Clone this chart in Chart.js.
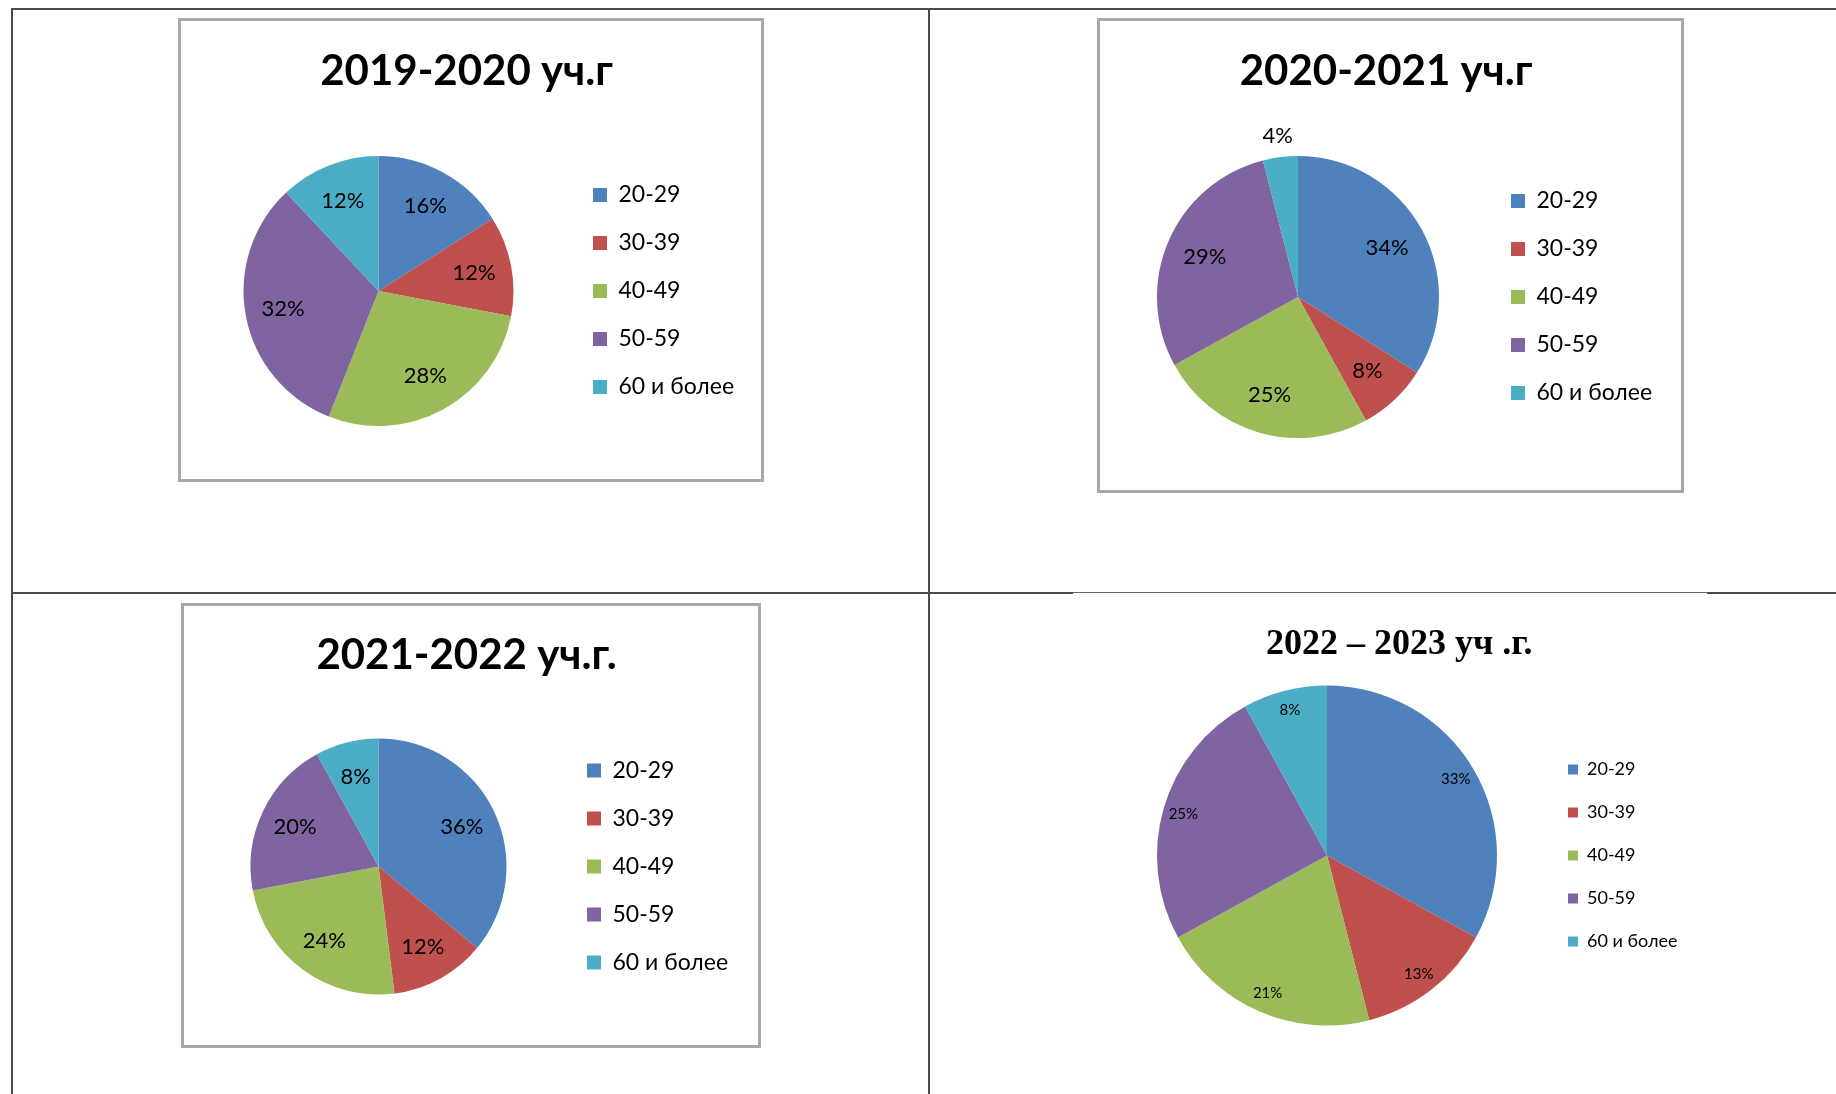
<!DOCTYPE html>
<html>
<head>
<meta charset="utf-8">
<script src="https://cdn.jsdelivr.net/npm/chart.js@4.4.1/dist/chart.umd.min.js"></script>
<style>
  body { margin: 0; background: #fff; width: 1836px; height: 1094px; position: relative; overflow: hidden; }
  .rule { position: absolute; background: #4a4a4a; }
  .frame { position: absolute; box-sizing: border-box; border: 3px solid #a8a8a8; }
  canvas { position: absolute; }
</style>
</head>
<body>
<!-- table lines -->
<div class="rule" style="left:11px;top:8px;width:1825px;height:2px"></div>
<div class="rule" style="left:11px;top:8px;width:2px;height:1086px"></div>
<div class="rule" style="left:928px;top:8px;width:2px;height:1086px"></div>
<div class="rule" style="left:11px;top:592px;width:1062px;height:2px"></div>
<div class="rule" style="left:1073px;top:592px;width:634px;height:1px;background:#666"></div>
<div class="rule" style="left:1707px;top:592px;width:129px;height:2px"></div>

<div class="frame" style="left:178px;top:18px;width:586px;height:464px"></div>
<div class="frame" style="left:1097px;top:18px;width:587px;height:475px"></div>
<div class="frame" style="left:181px;top:603px;width:580px;height:445px"></div>

<canvas id="c1" width="580" height="458" style="left:181px;top:21px"></canvas>
<canvas id="c2" width="581" height="469" style="left:1100px;top:21px"></canvas>
<canvas id="c3" width="574" height="439" style="left:184px;top:606px"></canvas>
<canvas id="c4" width="704" height="494" style="left:1040px;top:600px"></canvas>

<script>
// возрастные группы педагогов, доли в %
const ageGroups = ['20-29', '30-39', '40-49', '50-59', '60 и более'];
const titles = ['2019-2020 уч.г', '2020-2021 уч.г', '2021-2022 уч.г.', '2022 – 2023 уч .г.'];
const share2019 = [16, 12, 28, 32, 12];
const share2020 = [34, 8, 25, 29, 4];
const share2021 = [36, 12, 24, 20, 8];
const share2022 = [33, 13, 21, 25, 8];
const sliceColors = ['#4F81BD', '#C0504D', '#9BBB59', '#8064A2', '#4BACC6'];

// подписи процентов внутри секторов
const pctLabels = {
    id: 'pctLabels',
    afterDatasetsDraw(chart, args, opts) {
        const ctx = chart.ctx;
        const meta = chart.getDatasetMeta(0);
        const values = chart.data.datasets[0].data;
        ctx.save();
        ctx.font = opts.size + 'px ' + opts.family;
        ctx.fillStyle = '#000';
        ctx.textAlign = 'center';
        ctx.textBaseline = 'middle';
        meta.data.forEach(function (arc, i) {
            const p = arc.getProps(['x', 'y', 'startAngle', 'endAngle', 'outerRadius'], true);
            const mid = (p.startAngle + p.endAngle) / 2;
            const f = values[i] < 5 ? opts.outside : opts.inside;
            ctx.fillText(values[i] + '%', p.x + Math.cos(mid) * p.outerRadius * f, p.y + Math.sin(mid) * p.outerRadius * f);
        });
        ctx.restore();
    }
};

function plotarPizza(id, title, values, lay) {
    const el = document.getElementById(id);
    const config = {
        type: 'pie',
        data: {
            labels: ageGroups,
            datasets: [{
                data: values,
                backgroundColor: sliceColors,
                borderWidth: 0,
                radius: lay.radius
            }]
        },
        options: {
            responsive: false,
            animation: false,
            layout: {
                padding: { left: lay.left, right: 0, top: 0, bottom: lay.bottom }
            },
            plugins: {
                title: {
                    display: true,
                    text: title,
                    color: '#000',
                    font: { family: lay.titleFont, size: lay.titleSize, weight: 'bold', lineHeight: 1.2 },
                    padding: { top: lay.titleTop, bottom: lay.titleBottom }
                },
                legend: {
                    position: 'right',
                    fullSize: false,
                    labels: {
                        color: '#000',
                        font: { family: 'Lato', size: lay.legendSize },
                        boxWidth: lay.box,
                        boxHeight: lay.box,
                        padding: lay.gap
                    }
                },
                tooltip: { enabled: false },
                pctLabels: { family: 'Lato', size: lay.labelSize, inside: lay.inside, outside: 1.15 }
            }
        },
        plugins: [pctLabels]
    };
    const chart = new Chart(el, config);
    // сдвигаем легенду так, чтобы она начиналась там же, где в оригинале
    chart.options.layout.padding.right = el.width - chart.legend.width - lay.legendLeft;
    chart.update();
    return chart;
}

plotarPizza('c1', titles[0], share2019, {
    radius: 135, left: 8, bottom: 2, legendLeft: 387, titleFont: 'Lato', titleSize: 42, titleTop: 25, titleBottom: 8.6,
    legendSize: 23, box: 14, gap: 25, labelSize: 22, inside: 0.72
});
plotarPizza('c2', titles[1], share2020, {
    radius: 141, left: 10, bottom: 1, legendLeft: 386, titleFont: 'Lato', titleSize: 42, titleTop: 25, titleBottom: 8.6,
    legendSize: 23, box: 14, gap: 25, labelSize: 22, inside: 0.72
});
plotarPizza('c3', titles[2], share2021, {
    radius: 128, left: 11, bottom: 1, legendLeft: 378, titleFont: 'Lato', titleSize: 42, titleTop: 24, titleBottom: 8.6,
    legendSize: 23, box: 14, gap: 25, labelSize: 22, inside: 0.72
});
plotarPizza('c4', titles[3], share2022, {
    radius: 170, left: 71, bottom: 59, legendLeft: 503, titleFont: 'Liberation Serif', titleSize: 36, titleTop: 23, titleBottom: 9.8,
    legendSize: 18, box: 10, gap: 25, labelSize: 15, inside: 0.88
});
</script>
</body>
</html>
